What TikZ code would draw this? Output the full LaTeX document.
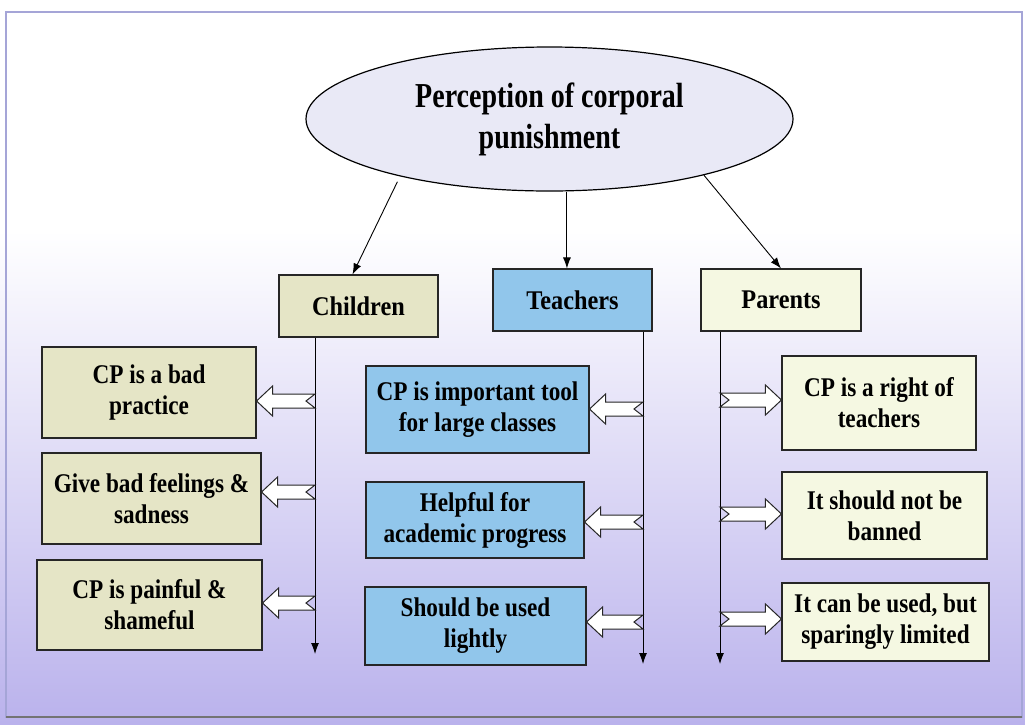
\documentclass[tikz,border=0pt]{standalone}
\usepackage{fontspec}
\setmainfont{Liberation Serif}
\newfontfamily\boxfont[FakeStretch=0.86]{Liberation Serif}
\newfontfamily\headfont[FakeStretch=0.9]{Liberation Serif}
\newfontfamily\ovalfont[FakeStretch=0.8]{Liberation Serif}
\usetikzlibrary{arrows.meta, shapes.geometric, calc}

\definecolor{kidfill}{RGB}{229,229,198}
\definecolor{tchfill}{RGB}{145,198,235}
\definecolor{parfill}{RGB}{245,248,226}
\definecolor{ovalfill}{RGB}{233,233,246}
\definecolor{bglav}{RGB}{186,178,236}
\definecolor{framecol}{RGB}{165,165,215}

\tikzset{
  box/.style={draw=black!85, line width=1.1pt, align=center, inner sep=0pt,
    font=\boxfont\bfseries\fontsize{27}{31}\selectfont},
  kidbox/.style={box, fill=kidfill},
  tchbox/.style={box, fill=tchfill},
  parbox/.style={box, fill=parfill},
  head/.style={font=\headfont\bfseries\fontsize{27}{31}\selectfont},
  link/.style={line width=0.9pt, -{Latex[length=11pt,width=8pt]}},
  fat/.style={draw=black!85, fill=white, line width=1pt},
}

% hollow arrow from a point on a trunk line to the side of a box
\newcommand\fatarrow[2]{%
  \coordinate (fa tip) at (#2 |- #1);
  \draw[fat] ($(#1)+(0,-7)$) -- ($(fa tip)!16pt!(#1)+(0,-7)$)
    -- ($(fa tip)!16pt!(#1)+(0,-15)$) -- (fa tip)
    -- ($(fa tip)!16pt!(#1)+(0,15)$) -- ($(fa tip)!16pt!(#1)+(0,7)$)
    -- ($(#1)+(0,7)$) -- ($(#1)!9pt!(fa tip)$) -- cycle;}

\begin{document}
\begin{tikzpicture}[x=1pt, y=-1pt]
  \useasboundingbox (0,0) rectangle (1025,724);
  % background
  \fill[white] (0,0) rectangle (1025,724);
  \shade[top color=white, bottom color=bglav] (0,230) rectangle (1025,724);
  \draw[framecol, line width=1.2pt] (6,12) rectangle (1022,717);
  \draw[black!55, line width=1.5pt] (6,717) -- (1022,717);

  % root
  \node[draw, ellipse, fill=ovalfill, line width=1.2pt, minimum width=487, minimum height=144,
    inner sep=0pt, align=center, font=\ovalfont\bfseries\fontsize{35}{41}\selectfont]
    (perc) at (549.5,119) {Perception of corporal\\punishment};

  % groups
  \node[kidbox, head, minimum width=159, minimum height=62] (children) at (358.5,306) {Children};
  \node[tchbox, head, minimum width=159, minimum height=62] (teachers) at (572.5,300) {Teachers};
  \node[parbox, head, minimum width=160, minimum height=62] (parents) at (781,300) {Parents};

  \draw[link, shorten <=6pt] (perc.201) -- ([xshift=-6pt]children.north);
  \draw[link] (perc.south -| teachers.100) -- (teachers.100);
  \draw[link] (perc.340) -- (parents.north);

  % children
  \node[kidbox, minimum width=214, minimum height=91] (cbad) at (149,392.5) {CP is a bad\\practice};
  \node[kidbox, minimum width=219, minimum height=91] (cfeel) at (151.5,498.5) {Give bad feelings \&\\sadness};
  \node[kidbox, minimum width=225, minimum height=90] (cpain) at (149.5,605) {CP is painful \&\\shameful};

  % teachers
  \node[tchbox, minimum width=223, minimum height=87] (timp) at (477.5,409.5) {CP is important tool\\for large classes};
  \node[tchbox, minimum width=218, minimum height=76] (thelp) at (475,520) {Helpful for\\academic progress};
  \node[tchbox, minimum width=221, minimum height=78] (tlight) at (475.5,626) {Should be used\\lightly};

  % parents
  \node[parbox, minimum width=194, minimum height=94] (pright) at (879,403) {CP is a right of\\teachers};
  \node[parbox, minimum width=205, minimum height=87] (pban) at (884.5,515.5) {It should not be\\banned};
  \node[parbox, minimum width=207, minimum height=78] (pused) at (885.5,622) {It can be used, but\\sparingly limited};

  % trunk lines
  \coordinate (kidend) at (315,654);
  \coordinate (tchend) at (643,664);
  \coordinate (parend) at (720,664);
  \draw[link] (children.south -| kidend) -- (kidend);
  \draw[link] (teachers.south -| tchend) -- (tchend);
  \draw[link] (parents.south -| parend) -- (parend);

  \coordinate (k1) at (315,401);
  \coordinate (k2) at (315,492);
  \coordinate (k3) at (315,603);
  \coordinate (t1) at (643,409);
  \coordinate (t2) at (643,522);
  \coordinate (t3) at (643,622);
  \coordinate (p1) at (720,400);
  \coordinate (p2) at (720,514);
  \coordinate (p3) at (720,619);

  \fatarrow{k1}{cbad.east}
  \fatarrow{k2}{cfeel.east}
  \fatarrow{k3}{cpain.east}
  \fatarrow{t1}{timp.east}
  \fatarrow{t2}{thelp.east}
  \fatarrow{t3}{tlight.east}
  \fatarrow{p1}{pright.west}
  \fatarrow{p2}{pban.west}
  \fatarrow{p3}{pused.west}
\end{tikzpicture}
\end{document}
